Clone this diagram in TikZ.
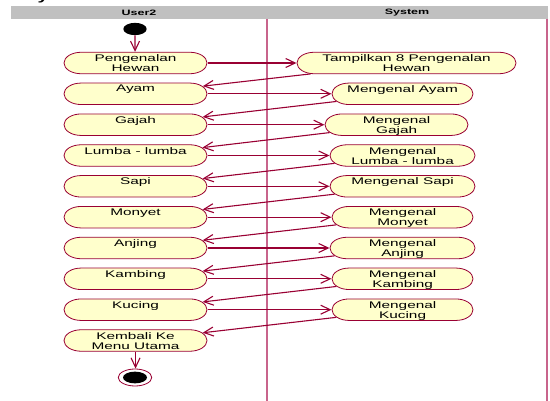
\documentclass[tikz,border=0pt]{standalone}
\usepackage{fontspec}
\setmainfont{Liberation Sans}
\usetikzlibrary{arrows.meta,shapes.misc,shapes.geometric}

\definecolor{rose}{RGB}{153,0,51}
\definecolor{actfill}{RGB}{255,255,204}
\definecolor{lanecol}{RGB}{200,100,140}
\definecolor{headgray}{RGB}{192,192,192}

% activity: rounded box plus its text, set near the top of the box
\newcommand\actbox[5]{%
  \node[actshape, minimum width=#4*0.625pt] (#1) at (#2,#3) {};
  \node[acttext] (#1-t) at ([yshift=-2.5pt]#1.north) {#5};
}

\begin{document}
\begin{tikzpicture}[
    x=0.625pt, y=-1pt, xscale=1.6,
    every node/.style={transform shape},
    actshape/.style={rounded rectangle, draw=rose, line width=0.8pt,
      fill=actfill, inner sep=0pt, minimum height=21.5pt},
    acttext/.style={anchor=north, inner sep=0pt, align=center,
      font=\fontsize{9.6}{10}\selectfont},
    lanehead/.style={inner sep=0pt, font=\bfseries\fontsize{7.8}{9}\selectfont},
    flow/.style={draw=rose, line width=1.1pt,
      -{Straight Barb[length=9.5pt,width=9pt]}},
    laneline/.style={draw=lanecol, line width=1.3pt}
  ]
  \useasboundingbox (0,0) rectangle (550,401);

  % caption fragment cut by the top edge
  \node[anchor=base, inner sep=0pt, font=\bfseries\fontsize{12}{12}\selectfont]
    (cap) at (43,0.8) {y};

  % swimlanes
  \fill[headgray] (11,6) rectangle (548,19);
  \node[lanehead] (hUser) at (139,12.6) {User2};
  \node[lanehead] (hSys) at (407,12.6) {System};
  \draw[laneline] (267,19) -- (267,401);
  \draw[laneline] (547,19) -- (547,401);

  % start and end
  \node[ellipse, fill=black, inner sep=0pt,
    minimum width=14.6pt, minimum height=12.3pt] (start) at (135,29) {};
  \node[ellipse, draw=rose, line width=0.8pt, fill=white, inner sep=0pt,
    minimum width=20.9pt, minimum height=17pt] (fin) at (135,377.5) {};
  \node[ellipse, fill=black, inner sep=0pt,
    minimum width=15pt, minimum height=11.7pt] (finin) at (135,377.5) {};

  % user lane
  \actbox{L1}{135.5}{63}{143}{Pengenalan\\Hewan}
  \actbox{L2}{135.5}{93.8}{143}{Ayam}
  \actbox{L3}{135.5}{124.7}{143}{Gajah}
  \actbox{L4}{135.5}{155.5}{143}{Lumba - lumba}
  \actbox{L5}{135.5}{186.3}{143}{Sapi}
  \actbox{L6}{135.5}{217.2}{143}{Monyet}
  \actbox{L7}{135.5}{248}{143}{Anjing}
  \actbox{L8}{135.5}{278.8}{143}{Kambing}
  \actbox{L9}{135.5}{309.7}{143}{Kucing}
  \actbox{L10}{135.5}{340.5}{143}{Kembali Ke\\Menu Utama}

  % system lane
  \actbox{R1}{406.5}{63}{219}{Tampilkan 8 Pengenalan\\Hewan}
  \actbox{R2}{402.5}{93.8}{141}{Mengenal Ayam}
  \actbox{R3}{396.5}{124.7}{143}{Mengenal\\Gajah}
  \actbox{R4}{402.5}{155.5}{145}{Mengenal\\Lumba - lumba}
  \actbox{R5}{402.5}{186.3}{145}{Mengenal Sapi}
  \actbox{R6}{402.5}{217.2}{141}{Mengenal\\Monyet}
  \actbox{R7}{402.5}{248}{145}{Mengenal\\Anjing}
  \actbox{R8}{402.5}{278.8}{141}{Mengenal\\Kambing}
  \actbox{R9}{402.5}{309.7}{141}{Mengenal\\Kucing}

  % transitions
  \draw[flow] (start) -- (start |- L1.north);
  \foreach \i in {1,...,9} {
    \draw[flow] (L\i.east) -- (R\i.west);
  }
  \foreach \i/\j in {1/2,2/3,3/4,4/5,5/6,6/7,7/8,8/9,9/10} {
    \draw[flow] (R\i) -- (L\j);
  }
  \draw[flow] (L10.south) -- (L10.south |- fin.north);
\end{tikzpicture}
\end{document}
